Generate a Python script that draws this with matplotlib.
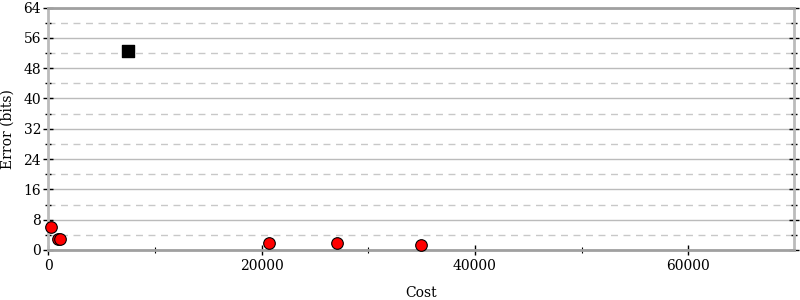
import matplotlib
matplotlib.use("Agg")
import matplotlib.pyplot as plt
from matplotlib.ticker import MultipleLocator

# data
red_cost = [280, 870, 1120, 20650, 27050, 34970]
red_error = [6.1, 2.9, 2.9, 1.8, 1.8, 1.3]
black_cost = [7450]
black_error = [52.6]

plt.rcParams['font.family'] = ['DejaVu Serif']

fig = plt.figure(figsize=(8, 3), dpi=100)
ax = fig.add_axes([0.0604, 0.1667, 0.932, 0.808])

ax.set_xlim(0, 69900)
ax.set_ylim(0, 64)

ax.yaxis.set_major_locator(MultipleLocator(8))
ax.yaxis.set_minor_locator(MultipleLocator(4))
ax.xaxis.set_major_locator(MultipleLocator(20000))
ax.xaxis.set_minor_locator(MultipleLocator(10000))

ax.grid(True, which='major', axis='y', color='#bbbbbb', linestyle='-', linewidth=1)
ax.grid(True, which='minor', axis='y', color='#c8c8c8', linestyle=(0, (5, 4)), linewidth=1)
ax.set_axisbelow(True)

for side, sp in ax.spines.items():
    sp.set_color('#a0a0a0')
    sp.set_linewidth(2)
ax.spines['left'].set_color('#bbbbbb')
ax.spines['right'].set_color('#bbbbbb')

ax.tick_params(axis='y', which='major', direction='inout', length=7.5, width=1,
               color='black', left=True, right=True, labelsize=10, pad=1.5)
ax.tick_params(axis='y', which='minor', direction='inout', length=4, width=1,
               color='black', left=True, right=True)
ax.tick_params(axis='x', which='major', direction='inout', length=7.5, width=1,
               color='black', top=False, labelsize=10, pad=2.5)
ax.tick_params(axis='x', which='minor', direction='inout', length=4, width=0.8,
               color='black', top=False)

ax.scatter(red_cost, red_error, s=70, c='red', edgecolors='black', linewidths=0.8,
           zorder=3, clip_on=False)
ax.scatter(black_cost, black_error, s=75, c='black', marker='s', zorder=3)

ax.set_xlabel('Cost', fontsize=10)
ax.set_ylabel('Error (bits)', fontsize=10)
ax.xaxis.set_label_coords(0.5, -0.148)
ax.yaxis.set_label_coords(-0.045, 0.5)

fig.savefig('out.png', dpi=100)
